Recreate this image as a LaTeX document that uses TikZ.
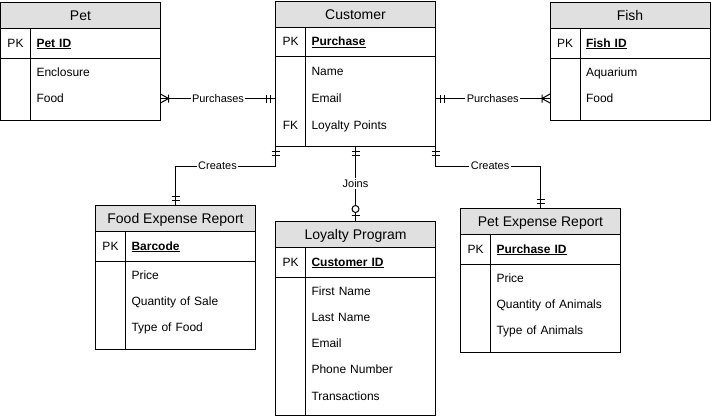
\documentclass[tikz,border=0pt]{standalone}
\usepackage{fontspec}
\setmainfont{Liberation Sans}
\usepackage{xcolor}
\usepackage{tikz}
\usetikzlibrary{positioning,decorations.markings}
\definecolor{headgray}{HTML}{E0E0E0}
\newcommand{\pkname}[1]{\underline{\textbf{#1}}}

\begin{document}
\begin{tikzpicture}[
  x=1pt, y=-1pt, line width=1pt,
  every node/.style={outer sep=0pt, inner sep=0pt, font=\fontsize{12}{14}\selectfont},
  head/.style={draw, fill=headgray, anchor=north west, minimum width=160pt, minimum height=26pt, text height=12pt, text depth=1pt, font=\fontsize{14}{16}\selectfont},
  kcell/.style={draw, anchor=north west, minimum width=30pt, minimum height=#1, text height=10pt, text depth=2pt},
  kcell/.default=30pt,
  ncell/.style={draw, anchor=north west, text width=118pt, inner xsep=6pt, align=left, minimum height=#1, text height=10pt, text depth=2pt},
  ncell/.default=30pt,
  attr/.style={anchor=north west, text width=118pt, inner xsep=6pt, align=left, minimum height=#1, text height=10pt, text depth=2pt},
  attr/.default=26pt,
  lab/.style={fill=white, inner sep=1.5pt, font=\fontsize{11}{13}\selectfont},
  onefrom/.style={postaction={decorate,decoration={markings,
    mark=at position 5pt with {\draw (0,-4pt) -- (0,4pt);},
    mark=at position 9pt with {\draw (0,-4pt) -- (0,4pt);}}}},
  oneto/.style={postaction={decorate,decoration={markings,
    mark=at position -5pt with {\draw (0,-4pt) -- (0,4pt);},
    mark=at position -9pt with {\draw (0,-4pt) -- (0,4pt);}}}},
  manyto/.style={postaction={decorate,decoration={markings,
    mark=at position -8pt with {\draw (0,-4pt) -- (0,4pt) (8pt,-4.5pt) -- (0,0) -- (8pt,4.5pt);}}}},
  zeroto/.style={postaction={decorate,decoration={markings,
    mark=at position -6pt with {\draw (0,-4pt) -- (0,4pt);},
    mark=at position -12pt with {\draw[fill=white] (0,0) circle (3.5pt);}}}}
]
\useasboundingbox (0,0) rectangle (711,416);

\node[head] (pet) at (0.5,2) {Pet};
\node[kcell] (petk) at (pet.south west) {PK};
\node[ncell] (petid) at (petk.north east) {\pkname{Pet ID}};
\node[kcell=62pt] (petkb) at (petk.south west) {};
\node[ncell=62pt] (petab) at (petkb.north east) {};
\node[attr, yshift=-1.5pt] (petr1) at (petab.north west) {Enclosure};
\node[attr, below=0pt of petr1] (petr2) {Food};

\node[head] (cust) at (275.5,1) {Customer};
\node[kcell=29pt] (custk) at (cust.south west) {PK};
\node[ncell=29pt] (custid) at (custk.north east) {\pkname{Purchase}};
\node[kcell=90pt] (custkb) at (custk.south west) {};
\node[ncell=90pt] (custab) at (custkb.north east) {};
\node[attr=27pt, yshift=-1.5pt] (custr1) at (custab.north west) {Name};
\node[attr=27pt, below=0pt of custr1] (custr2) {Email};
\node[attr=27pt, below=0pt of custr2] (custr3) {Loyalty Points};
\node[text height=10pt, text depth=2pt] at (custkb.center |- custr3) {FK};

\node[head] (fish) at (550,2) {Fish};
\node[kcell] (fishk) at (fish.south west) {PK};
\node[ncell] (fishid) at (fishk.north east) {\pkname{Fish ID}};
\node[kcell=62pt] (fishkb) at (fishk.south west) {};
\node[ncell=62pt] (fishab) at (fishkb.north east) {};
\node[attr, yshift=-1.5pt] (fishr1) at (fishab.north west) {Aquarium};
\node[attr, below=0pt of fishr1] (fishr2) {Food};

\node[head] (food) at (95.5,205) {Food Expense Report};
\node[kcell] (foodk) at (food.south west) {PK};
\node[ncell] (foodid) at (foodk.north east) {\pkname{Barcode}};
\node[kcell=88pt] (foodkb) at (foodk.south west) {};
\node[ncell=88pt] (foodab) at (foodkb.north east) {};
\node[attr, yshift=-1.5pt] (foodr1) at (foodab.north west) {Price};
\node[attr, below=0pt of foodr1] (foodr2) {Quantity of Sale};
\node[attr, below=0pt of foodr2] (foodr3) {Type of Food};

\node[head] (loyal) at (275.5,221) {Loyalty Program};
\node[kcell] (loyalk) at (loyal.south west) {PK};
\node[ncell] (loyalid) at (loyalk.north east) {\pkname{Customer ID}};
\node[kcell=138pt] (loyalkb) at (loyalk.south west) {};
\node[ncell=138pt] (loyalab) at (loyalkb.north east) {};
\node[attr, yshift=-1.5pt] (loyalr1) at (loyalab.north west) {First Name};
\node[attr, below=0pt of loyalr1] (loyalr2) {Last Name};
\node[attr, below=0pt of loyalr2] (loyalr3) {Email};
\node[attr, below=0pt of loyalr3] (loyalr4) {Phone Number};
\node[attr=28pt, below=0pt of loyalr4] (loyalr5) {Transactions};

\node[head] (petexp) at (460.5,208) {Pet Expense Report};
\node[kcell] (petexpk) at (petexp.south west) {PK};
\node[ncell] (petexpid) at (petexpk.north east) {\pkname{Purchase ID}};
\node[kcell=88pt] (petexpkb) at (petexpk.south west) {};
\node[ncell=88pt] (petexpab) at (petexpkb.north east) {};
\node[attr, yshift=-1.5pt] (petexpr1) at (petexpab.north west) {Price};
\node[attr, below=0pt of petexpr1] (petexpr2) {Quantity of Animals};
\node[attr, below=0pt of petexpr2] (petexpr3) {Type of Animals};

\draw[onefrom, manyto] (custkb.west |- petr2) -- node[lab]{Purchases} (petab.east |- petr2);
\draw[onefrom, manyto] (custab.east |- fishr2) -- node[lab]{Purchases} (fishkb.west |- fishr2);
\draw[onefrom, oneto] (custkb.south west) -- ++(0,20) -| node[lab, pos=0.29]{Creates} (food.north);
\draw[onefrom, oneto] (custab.south east) -- ++(0,20) -| node[lab, pos=0.26]{Creates} (petexp.north);
\draw[onefrom, zeroto] (cust.center |- custab.south) -- node[lab]{Joins} (loyal.north);

\end{tikzpicture}
\end{document}
